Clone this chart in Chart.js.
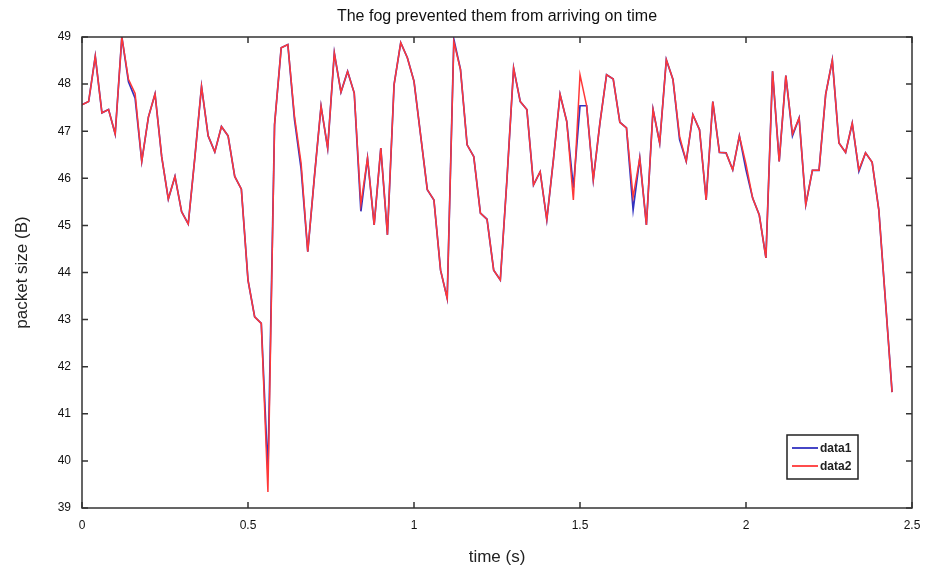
<!DOCTYPE html>
<html>
<head>
<meta charset="utf-8">
<script src="https://cdn.jsdelivr.net/npm/chart.js@4"></script>
<style>
  html, body { margin: 0; padding: 0; background: #fff; }
  #wrap { width: 933px; height: 571px; }
</style>
</head>
<body>
<div id="wrap"><canvas id="fogChart"></canvas></div>
<script>
// sample times (s)
const times = [
  0.00, 0.02, 0.04, 0.06, 0.08, 0.10, 0.12, 0.14, 0.16, 0.18,
  0.20, 0.22, 0.24, 0.26, 0.28, 0.30, 0.32, 0.34, 0.36, 0.38,
  0.40, 0.42, 0.44, 0.46, 0.48, 0.50, 0.52, 0.54, 0.56, 0.58,
  0.60, 0.62, 0.64, 0.66, 0.68, 0.70, 0.72, 0.74, 0.76, 0.78,
  0.80, 0.82, 0.84, 0.86, 0.88, 0.90, 0.92, 0.94, 0.96, 0.98,
  1.00, 1.02, 1.04, 1.06, 1.08, 1.10, 1.12, 1.14, 1.16, 1.18,
  1.20, 1.22, 1.24, 1.26, 1.28, 1.30, 1.32, 1.34, 1.36, 1.38,
  1.40, 1.42, 1.44, 1.46, 1.48, 1.50, 1.52, 1.54, 1.56, 1.58,
  1.60, 1.62, 1.64, 1.66, 1.68, 1.70, 1.72, 1.74, 1.76, 1.78,
  1.80, 1.82, 1.84, 1.86, 1.88, 1.90, 1.92, 1.94, 1.96, 1.98,
  2.00, 2.02, 2.04, 2.06, 2.08, 2.10, 2.12, 2.14, 2.16, 2.18,
  2.20, 2.22, 2.24, 2.26, 2.28, 2.30, 2.32, 2.34, 2.36, 2.38,
  2.40, 2.42, 2.44
];

// packet size (B), blue series
const data1 = [
  47.56, 47.63, 48.59, 47.39, 47.46, 46.94, 49.00, 48.05, 47.70, 46.36,
  47.30, 47.79, 46.46, 45.56, 46.04, 45.29, 45.03, 46.45, 47.95, 46.90,
  46.56, 47.10, 46.90, 46.04, 45.77, 43.84, 43.06, 42.92, 39.76, 47.14,
  48.77, 48.84, 47.25, 46.20, 44.44, 46.03, 47.53, 46.64, 48.66, 47.83,
  48.27, 47.81, 45.30, 46.43, 45.01, 46.64, 44.80, 47.99, 48.88, 48.56,
  48.06, 46.91, 45.76, 45.54, 44.05, 43.45, 48.95, 48.31, 46.71, 46.46,
  45.26, 45.13, 44.05, 43.84, 45.98, 48.34, 47.63, 47.46, 45.86, 46.14,
  45.12, 46.40, 47.78, 47.21, 45.80, 47.54, 47.54, 45.97, 47.17, 48.20,
  48.11, 47.19, 47.07, 45.33, 46.43, 45.01, 47.46, 46.75, 48.52, 48.10,
  46.82, 46.36, 47.35, 47.03, 45.54, 47.63, 46.55, 46.54, 46.18, 46.90,
  46.18, 45.58, 45.22, 44.31, 48.27, 46.36, 48.18, 46.90, 47.28, 45.44,
  46.17, 46.17, 47.78, 48.51, 46.75, 46.55, 47.17, 46.15, 46.54, 46.34,
  45.33, 43.40, 41.46
];

// packet size (B), red series
const data2 = [
  47.56, 47.63, 48.59, 47.39, 47.46, 46.94, 49.00, 48.10, 47.80, 46.36,
  47.30, 47.79, 46.46, 45.56, 46.04, 45.29, 45.03, 46.45, 47.95, 46.90,
  46.56, 47.10, 46.90, 46.04, 45.77, 43.84, 43.06, 42.92, 39.34, 47.14,
  48.77, 48.84, 47.32, 46.32, 44.44, 46.03, 47.53, 46.64, 48.66, 47.83,
  48.27, 47.81, 45.45, 46.43, 45.01, 46.64, 44.80, 47.99, 48.88, 48.56,
  48.06, 46.91, 45.76, 45.54, 44.05, 43.45, 48.90, 48.31, 46.71, 46.46,
  45.26, 45.13, 44.05, 43.84, 45.98, 48.34, 47.63, 47.46, 45.86, 46.14,
  45.12, 46.40, 47.78, 47.21, 45.54, 48.20, 47.54, 45.97, 47.17, 48.20,
  48.11, 47.19, 47.07, 45.60, 46.43, 45.01, 47.46, 46.75, 48.52, 48.10,
  46.89, 46.36, 47.35, 47.03, 45.54, 47.63, 46.55, 46.54, 46.18, 46.90,
  46.30, 45.58, 45.22, 44.31, 48.27, 46.36, 48.18, 46.94, 47.28, 45.44,
  46.17, 46.17, 47.78, 48.51, 46.75, 46.55, 47.17, 46.18, 46.54, 46.34,
  45.33, 43.40, 41.46
];

const seriesNames = ['data1', 'data2'];
const seriesColors = ['#3232c0', '#ff3838'];

function toPoints(ys) {
  return ys.map((y, i) => ({ x: times[i], y: y }));
}

// frame, inward tick marks and the small legend box
const framePlugin = {
  id: 'frame',
  afterDraw(chart) {
    const ctx = chart.ctx;
    const area = chart.chartArea;
    const xs = chart.scales.x;
    const ys = chart.scales.y;
    const tick = 6;

    ctx.save();
    ctx.strokeStyle = '#333';
    ctx.lineWidth = 1.5;
    ctx.beginPath();
    xs.ticks.forEach((t, i) => {
      const px = xs.getPixelForTick(i);
      ctx.moveTo(px, area.bottom);
      ctx.lineTo(px, area.bottom - tick);
      ctx.moveTo(px, area.top);
      ctx.lineTo(px, area.top + tick);
    });
    ys.ticks.forEach((t, i) => {
      const py = ys.getPixelForTick(i);
      ctx.moveTo(area.left, py);
      ctx.lineTo(area.left + tick, py);
      ctx.moveTo(area.right, py);
      ctx.lineTo(area.right - tick, py);
    });
    ctx.stroke();
    ctx.strokeRect(area.left, area.top, area.right - area.left, area.bottom - area.top);

    // legend box
    const bx = area.right - 125, by = area.bottom - 73, bw = 71, bh = 44;
    ctx.fillStyle = '#fff';
    ctx.fillRect(bx, by, bw, bh);
    ctx.lineWidth = 1.5;
    ctx.strokeStyle = '#222';
    ctx.strokeRect(bx, by, bw, bh);
    ctx.font = 'bold 12px "Liberation Sans", Arial, sans-serif';
    ctx.textBaseline = 'middle';
    chart.data.datasets.forEach((ds, i) => {
      const ly = by + 13 + i * 18;
      ctx.strokeStyle = ds.borderColor;
      ctx.lineWidth = 1.8;
      ctx.beginPath();
      ctx.moveTo(bx + 5, ly);
      ctx.lineTo(bx + 31, ly);
      ctx.stroke();
      ctx.fillStyle = '#222';
      ctx.fillText(ds.label, bx + 33, ly + 1);
    });
    ctx.restore();
  }
};

const axisFont = { family: '"Liberation Sans", Arial, sans-serif', size: 12 };
const titleFont = { family: '"Liberation Sans", Arial, sans-serif', size: 17 };

new Chart(document.getElementById('fogChart'), {
  type: 'line',
  data: {
    datasets: [
      {
        label: seriesNames[0],
        data: toPoints(data1),
        borderColor: seriesColors[0],
        borderWidth: 1.7,
        pointRadius: 0,
        tension: 0,
        order: 1
      },
      {
        label: seriesNames[1],
        data: toPoints(data2),
        borderColor: seriesColors[1],
        borderWidth: 1.5,
        pointRadius: 0,
        tension: 0,
        order: 0
      }
    ]
  },
  options: {
    responsive: true,
    maintainAspectRatio: false,
    animation: false,
    layout: { padding: { left: 0, right: 21, top: 0, bottom: 0 } },
    plugins: {
      legend: { display: false },
      tooltip: { enabled: false }
    },
    scales: {
      x: {
        type: 'linear',
        position: 'bottom',
        min: 0,
        max: 2.5,
        ticks: { stepSize: 0.5, color: '#111', font: axisFont, padding: 10, callback: v => String(v) },
        grid: { display: false, drawTicks: false },
        border: { display: false },
        title: { display: true, text: 'time (s)', color: '#222', font: titleFont, padding: { top: 0, bottom: 3 } },
        afterFit(scale) { scale.height = 63; }
      },
      top: {
        type: 'linear',
        position: 'top',
        min: 0,
        max: 2.5,
        ticks: { display: false },
        grid: { display: false, drawTicks: false },
        border: { display: false },
        title: { display: true, text: 'The fog prevented them from arriving on time', color: '#111', font: { family: titleFont.family, size: 16 }, padding: { top: 7, bottom: 0 } },
        afterFit(scale) { scale.height = 37; }
      },
      y: {
        min: 39,
        max: 49,
        ticks: { stepSize: 1, color: '#111', font: axisFont, padding: 11 },
        grid: { display: false, drawTicks: false },
        border: { display: false },
        title: { display: true, text: 'packet size (B)', color: '#222', font: titleFont, padding: { top: 12, bottom: 0 } },
        afterFit(scale) { scale.width = 82; }
      }
    }
  },
  plugins: [framePlugin]
});
</script>
</body>
</html>
